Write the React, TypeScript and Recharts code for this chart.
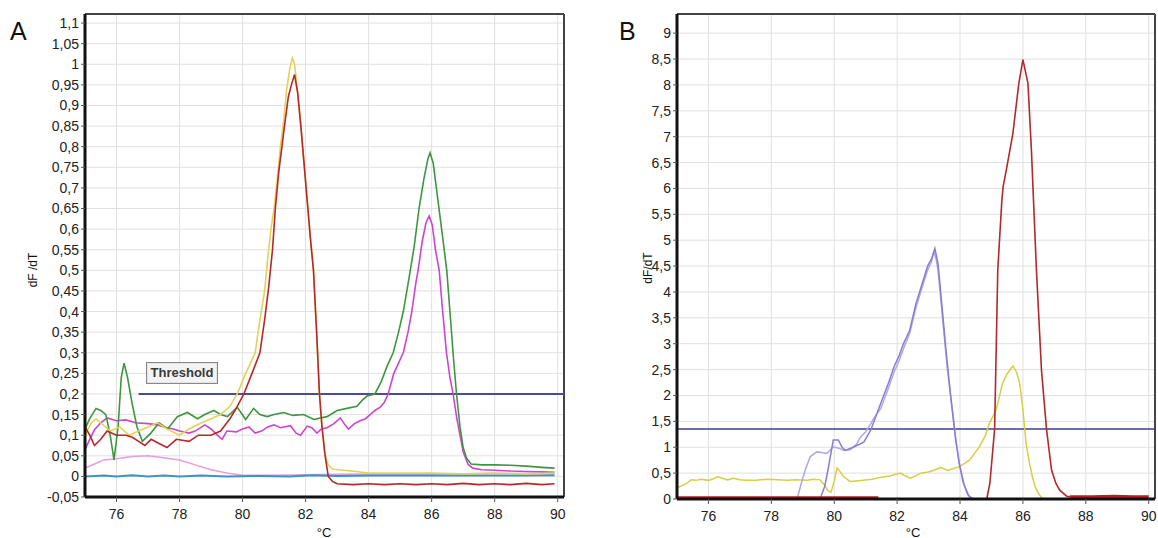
import React from 'react';
import { LineChart, Line, XAxis, YAxis, CartesianGrid, ReferenceLine } from 'recharts';

type Pt = [number, number | null];

// ---- panel A: dF/dT against temperature (°C)
const ticksA_y = [-0.05, 0, 0.05, 0.1, 0.15, 0.2, 0.25, 0.3, 0.35, 0.4, 0.45, 0.5, 0.55, 0.6, 0.65, 0.7, 0.75, 0.8, 0.85, 0.9, 0.95, 1, 1.05, 1.1];
const ticksX = [76, 78, 80, 82, 84, 86, 88, 90];
const thresholdA = 0.2;

const yellowA: Pt[] = [
  [75.0, 0.1], [75.2, 0.13], [75.35, 0.14], [75.5, 0.13], [75.8, 0.11], [76.1, 0.12], [76.4, 0.1], [76.7, 0.11],
  [77.0, 0.12], [77.3, 0.13], [77.6, 0.115], [78.0, 0.1], [78.3, 0.115], [78.7, 0.13], [79.0, 0.14], [79.3, 0.15],
  [79.6, 0.17], [79.83, 0.2], [80.1, 0.25], [80.4, 0.3], [80.55, 0.38], [80.7, 0.45], [80.8, 0.53], [80.9, 0.6],
  [81.0, 0.65], [81.1, 0.72], [81.2, 0.8], [81.3, 0.86], [81.4, 0.94], [81.5, 0.99], [81.58, 1.015], [81.65, 1.0],
  [81.75, 0.93], [81.85, 0.85], [81.95, 0.76], [82.05, 0.67], [82.15, 0.58], [82.25, 0.5], [82.35, 0.35], [82.44, 0.2],
  [82.52, 0.12], [82.6, 0.06], [82.7, 0.03], [82.85, 0.018], [83.2, 0.015], [83.6, 0.012], [84.0, 0.008], [85.0, 0.008],
  [86.0, 0.008], [87.0, 0.006], [88.0, 0.008], [89.0, 0.006], [89.9, 0.008],
];

const redA: Pt[] = [
  [75.0, 0.12], [75.15, 0.1], [75.3, 0.075], [75.5, 0.09], [75.7, 0.11], [76.0, 0.1], [76.3, 0.1], [76.5, 0.095],
  [76.7, 0.085], [76.9, 0.075], [77.1, 0.09], [77.35, 0.08], [77.6, 0.07], [77.9, 0.09], [78.3, 0.085], [78.6, 0.1],
  [79.0, 0.1], [79.3, 0.11], [79.6, 0.14], [79.8, 0.165], [80.04, 0.2], [80.3, 0.25], [80.55, 0.3], [80.7, 0.38],
  [80.83, 0.46], [80.95, 0.55], [81.04, 0.65], [81.15, 0.74], [81.25, 0.8], [81.33, 0.85], [81.45, 0.92], [81.55, 0.95],
  [81.65, 0.975], [81.75, 0.93], [81.85, 0.85], [81.95, 0.76], [82.05, 0.67], [82.15, 0.58], [82.25, 0.5], [82.35, 0.35],
  [82.44, 0.2], [82.52, 0.12], [82.62, 0.05], [82.72, 0.0], [82.85, -0.012], [83.0, -0.018], [83.5, -0.02], [84.0, -0.018],
  [84.5, -0.02], [85.0, -0.018], [85.5, -0.02], [86.0, -0.018], [86.5, -0.02], [87.0, -0.017], [87.5, -0.02], [88.0, -0.018],
  [88.5, -0.02], [89.0, -0.017], [89.5, -0.02], [89.9, -0.018],
];

const greenA: Pt[] = [
  [75.0, 0.115], [75.15, 0.14], [75.35, 0.165], [75.5, 0.16], [75.66, 0.15], [75.8, 0.1], [75.92, 0.04], [76.05, 0.12],
  [76.15, 0.24], [76.24, 0.275], [76.35, 0.24], [76.5, 0.175], [76.65, 0.12], [76.82, 0.085], [77.09, 0.105], [77.35, 0.13],
  [77.62, 0.115], [77.93, 0.145], [78.25, 0.155], [78.57, 0.14], [78.8, 0.15], [79.09, 0.16], [79.3, 0.15], [79.52, 0.145],
  [79.83, 0.168], [80.1, 0.138], [80.35, 0.165], [80.55, 0.15], [80.78, 0.145], [81.0, 0.15], [81.3, 0.155], [81.6, 0.148],
  [81.94, 0.15], [82.26, 0.138], [82.5, 0.142], [82.68, 0.145], [83.0, 0.16], [83.31, 0.165], [83.63, 0.17], [83.8, 0.185],
  [83.95, 0.195], [84.2, 0.2], [84.4, 0.23], [84.6, 0.27], [84.78, 0.3], [84.95, 0.35], [85.1, 0.4], [85.28, 0.48],
  [85.45, 0.56], [85.6, 0.65], [85.75, 0.72], [85.88, 0.77], [85.95, 0.785], [86.05, 0.76], [86.2, 0.67], [86.35, 0.58],
  [86.48, 0.5], [86.6, 0.38], [86.7, 0.28], [86.79, 0.2], [86.9, 0.12], [87.0, 0.07], [87.1, 0.045], [87.25, 0.03],
  [87.6, 0.028], [88.0, 0.028], [88.5, 0.027], [89.0, 0.025], [89.5, 0.022], [89.9, 0.02],
];

const magentaA: Pt[] = [
  [75.0, 0.065], [75.15, 0.09], [75.3, 0.113], [75.5, 0.13], [75.7, 0.142], [76.0, 0.135], [76.3, 0.137], [76.6, 0.13],
  [77.0, 0.128], [77.3, 0.125], [77.5, 0.12], [77.8, 0.115], [78.0, 0.11], [78.3, 0.105], [78.5, 0.11], [78.8, 0.125],
  [79.0, 0.115], [79.2, 0.1], [79.35, 0.09], [79.5, 0.11], [79.8, 0.108], [80.0, 0.115], [80.2, 0.12], [80.4, 0.105],
  [80.6, 0.11], [80.8, 0.12], [81.0, 0.125], [81.2, 0.118], [81.52, 0.123], [81.7, 0.105], [81.84, 0.1], [82.05, 0.122],
  [82.2, 0.118], [82.36, 0.105], [82.5, 0.115], [82.68, 0.118], [82.9, 0.128], [83.1, 0.142], [83.25, 0.125], [83.36, 0.115],
  [83.55, 0.128], [83.73, 0.135], [83.9, 0.14], [84.05, 0.15], [84.2, 0.16], [84.37, 0.168], [84.5, 0.18], [84.62, 0.2],
  [84.8, 0.25], [85.1, 0.3], [85.25, 0.35], [85.37, 0.4], [85.5, 0.47], [85.57, 0.5], [85.7, 0.57], [85.82, 0.615],
  [85.92, 0.632], [86.02, 0.61], [86.12, 0.55], [86.24, 0.5], [86.35, 0.4], [86.47, 0.3], [86.58, 0.24], [86.68, 0.2],
  [86.8, 0.14], [86.9, 0.1], [87.0, 0.06], [87.15, 0.03], [87.3, 0.02], [87.6, 0.016], [88.0, 0.015], [88.5, 0.013],
  [89.0, 0.012], [89.5, 0.011], [89.9, 0.01],
];

const pinkA: Pt[] = [
  [75.0, 0.02], [75.3, 0.03], [75.6, 0.04], [76.0, 0.043], [76.5, 0.048], [77.0, 0.05], [77.5, 0.045], [78.0, 0.04],
  [78.5, 0.028], [79.0, 0.016], [79.5, 0.008], [80.0, 0.003], [81.0, 0.003], [82.0, 0.004], [83.0, 0.005], [84.0, 0.006],
  [86.0, 0.006], [88.0, 0.007], [89.9, 0.007],
];

const cyanA: Pt[] = [
  [75.0, 0.0], [75.6, 0.002], [76.0, 0.0], [76.5, 0.003], [77.0, 0.0], [77.5, 0.002], [78.0, 0.0], [78.7, 0.002],
  [79.5, 0.0], [80.5, 0.001], [81.5, 0.0], [82.2, 0.003], [83.0, 0.001], [84.0, 0.002], [85.0, 0.002], [86.0, 0.002],
  [87.0, 0.002], [88.0, 0.002], [89.0, 0.002], [89.9, 0.003],
];

// ---- panel B
const ticksB_y = [0, 0.5, 1, 1.5, 2, 2.5, 3, 3.5, 4, 4.5, 5, 5.5, 6, 6.5, 7, 7.5, 8, 8.5, 9];
const thresholdB = 1.35;

const redB: Pt[] = [
  [84.85, 0], [84.95, 0.31], [85.1, 1.35], [85.2, 4.42], [85.33, 5.77], [85.37, 6.03], [85.5, 6.45], [85.68, 7.06],
  [85.87, 8.03], [86.0, 8.49], [86.16, 8.03], [86.27, 6.74], [86.43, 4.42], [86.59, 2.49], [86.75, 1.35], [86.91, 0.56],
  [87.05, 0.3], [87.17, 0.17], [87.4, 0.05], [87.6, 0.04],
];

// thick red trace lying on zero, before and after the peak
const redBaseB: Pt[] = [
  [75.0, 0.02], [76.5, 0.02], [78.0, 0.02], [79.5, 0.02], [81.4, 0.02], [84.0, null],
  [87.5, 0.04], [88.2, 0.04], [88.9, 0.05], [89.5, 0.04], [90.0, 0.04],
];

const yellowB: Pt[] = [
  [75.0, 0.22], [75.1, 0.24], [75.3, 0.3], [75.45, 0.37], [75.6, 0.36], [75.76, 0.38], [76.0, 0.36], [76.15, 0.39],
  [76.29, 0.43], [76.45, 0.4], [76.6, 0.37], [76.8, 0.4], [77.0, 0.37], [77.2, 0.36], [77.5, 0.36], [77.86, 0.38],
  [78.2, 0.37], [78.5, 0.36], [78.8, 0.37], [79.13, 0.36], [79.35, 0.38], [79.55, 0.37], [79.68, 0.28], [79.8, 0.16],
  [79.9, 0.13], [80.0, 0.35], [80.09, 0.6], [80.2, 0.52], [80.3, 0.43], [80.5, 0.34], [80.7, 0.35], [80.9, 0.36],
  [81.2, 0.38], [81.48, 0.42], [81.8, 0.45], [82.1, 0.5], [82.25, 0.45], [82.43, 0.4], [82.6, 0.45], [82.75, 0.5],
  [83.0, 0.52], [83.2, 0.56], [83.38, 0.61], [83.6, 0.55], [84.0, 0.63], [84.3, 0.75], [84.62, 1.01], [84.8, 1.22],
  [84.94, 1.47], [85.15, 1.72], [85.35, 2.23], [85.5, 2.42], [85.68, 2.57], [85.8, 2.45], [85.9, 2.23], [86.0, 1.72],
  [86.1, 1.08], [86.2, 0.72], [86.3, 0.43], [86.4, 0.22], [86.5, 0.1], [86.6, 0.02], [86.7, 0],
];

const violet1B: Pt[] = [
  [78.82, 0], [78.95, 0.3], [79.1, 0.6], [79.24, 0.82], [79.45, 0.91], [79.6, 0.9], [79.76, 0.88], [79.97, 1.01],
  [80.15, 0.98], [80.3, 0.94], [80.5, 0.95], [80.7, 1.05], [80.84, 1.2], [81.0, 1.3], [81.16, 1.45], [81.3, 1.6],
  [81.48, 1.75], [81.7, 2.1], [81.9, 2.45], [82.05, 2.65], [82.2, 2.9], [82.4, 3.2], [82.6, 3.7], [82.8, 4.1],
  [82.97, 4.42], [83.1, 4.6], [83.17, 4.78], [83.25, 4.6], [83.3, 4.42], [83.45, 3.46], [83.6, 2.49], [83.77, 1.66],
  [83.88, 1.08], [84.0, 0.62], [84.15, 0.24], [84.3, 0.04], [84.4, 0],
];

const violet2B: Pt[] = [
  [79.55, 0], [79.7, 0.25], [79.8, 0.56], [79.9, 0.9], [79.97, 1.14], [80.13, 1.14], [80.25, 1.0], [80.35, 0.94],
  [80.6, 1.0], [80.94, 1.1], [81.16, 1.33], [81.48, 1.85], [81.7, 2.2], [81.9, 2.55], [82.05, 2.75], [82.2, 3.0],
  [82.4, 3.26], [82.6, 3.78], [82.8, 4.17], [82.97, 4.5], [83.1, 4.65], [83.2, 4.84], [83.3, 4.55], [83.4, 3.9],
  [83.55, 2.9], [83.7, 2.0], [83.85, 1.2], [83.97, 0.7], [84.1, 0.32], [84.25, 0.08], [84.4, 0],
];

const toPts = (arr: Pt[]) => arr.map(([t, v]) => ({ t, v }));
const fmt = (v: number) => String(Math.round(v * 100) / 100).replace('.', ',');

const FONT = '"Liberation Sans", Arial, sans-serif';
const tickStyle = { fontSize: 14, fill: '#222', fontFamily: FONT };
const X_DOMAIN: [number, number] = [75, 90.2];

const line = (key: string, data: Pt[], color: string, width = 1.5) => (
  <Line
    key={key}
    data={toPts(data)}
    dataKey="v"
    type="linear"
    stroke={color}
    strokeWidth={width}
    dot={false}
    activeDot={false}
    connectNulls={false}
    isAnimationActive={false}
  />
);

const absText = (style: React.CSSProperties): React.CSSProperties => ({
  position: 'absolute',
  fontFamily: FONT,
  color: '#111',
  whiteSpace: 'nowrap',
  ...style,
});

export default function App() {
  const yTopA = 1.122;
  const yTopB = 9.37;
  return (
    <div style={{ position: 'absolute', left: 0, top: 0, width: 1158, height: 538, background: '#fff', overflow: 'hidden' }}>
      {/* panel A */}
      <div style={{ position: 'absolute', left: 0, top: 0 }}>
        <LineChart width={580} height={538} margin={{ top: 14, right: 16, bottom: 11, left: 30 }}>
          <CartesianGrid stroke="#e0e0e0" strokeWidth={1} />
          <XAxis
            dataKey="t"
            type="number"
            domain={X_DOMAIN}
            allowDataOverflow
            ticks={ticksX}
            interval={0}
            height={30}
            tick={tickStyle}
            tickSize={5}
            tickMargin={7}
            tickLine={{ stroke: '#555' }}
            axisLine={{ stroke: '#111', strokeWidth: 3 }}
          />
          <YAxis
            type="number"
            domain={[-0.05, yTopA]}
            allowDataOverflow
            ticks={ticksA_y}
            interval={0}
            width={55}
            tick={tickStyle}
            tickFormatter={fmt}
            tickSize={4}
            tickMargin={2}
            tickLine={{ stroke: '#555' }}
            axisLine={{ stroke: '#111', strokeWidth: 3 }}
          />
          <ReferenceLine y={yTopA} stroke="#444" strokeWidth={2} />
          <ReferenceLine x={90.2} stroke="#444" strokeWidth={2} />
          <ReferenceLine
            segment={[{ x: 76.7, y: thresholdA }, { x: 90.2, y: thresholdA }]}
            stroke="#4b4b9e"
            strokeWidth={2}
          />
          {line('pink', pinkA, '#e69ce0', 1.5)}
          {line('cyan', cyanA, '#3d92c8', 2)}
          {line('magenta', magentaA, '#cc44d0', 1.6)}
          {line('green', greenA, '#3f9640', 1.6)}
          {line('yellow', yellowA, '#e2d356', 1.6)}
          {line('red', redA, '#b8282a', 1.6)}
        </LineChart>
        <div
          style={absText({
            left: 146,
            top: 362,
            width: 70,
            height: 20,
            border: '1px solid #888',
            boxShadow: 'inset 0 0 0 1px #e4e4e4',
            background: '#f3f3f3',
            fontSize: 13,
            fontWeight: 'bold',
            lineHeight: '20px',
            textAlign: 'center',
            color: '#3a3a3a',
          })}
        >
          Threshold
        </div>
      </div>

      {/* panel B */}
      <div style={{ position: 'absolute', left: 580, top: 0 }}>
        <LineChart width={578} height={538} margin={{ top: 14, right: 3, bottom: 9, left: 40 }}>
          <CartesianGrid stroke="#e0e0e0" strokeWidth={1} />
          <XAxis
            dataKey="t"
            type="number"
            domain={X_DOMAIN}
            allowDataOverflow
            ticks={ticksX}
            interval={0}
            height={30}
            tick={tickStyle}
            tickSize={5}
            tickMargin={7}
            tickLine={{ stroke: '#555' }}
            axisLine={{ stroke: '#111', strokeWidth: 3 }}
          />
          <YAxis
            type="number"
            domain={[0, yTopB]}
            allowDataOverflow
            ticks={ticksB_y}
            interval={0}
            width={57}
            tick={tickStyle}
            tickFormatter={fmt}
            tickSize={4}
            tickMargin={2}
            tickLine={{ stroke: '#555' }}
            axisLine={{ stroke: '#111', strokeWidth: 3 }}
          />
          <ReferenceLine y={yTopB} stroke="#444" strokeWidth={2} />
          <ReferenceLine x={90.2} stroke="#444" strokeWidth={2} />
          <ReferenceLine y={thresholdB} stroke="#3c3c8e" strokeWidth={1.5} />
          {line('yellowB', yellowB, '#d6cf45', 1.5)}
          {line('violet1', violet1B, '#b2a6e2', 1.5)}
          {line('violet2', violet2B, '#8c7cd0', 1.5)}
          {line('redBase', redBaseB, '#b81c24', 3.5)}
          {line('redB', redB, '#b02a2e', 1.6)}
        </LineChart>
      </div>

      {/* panel letters and axis titles */}
      <div style={absText({ left: 10, top: 17, fontSize: 25 })}>A</div>
      <div style={absText({ left: 619, top: 17, fontSize: 25 })}>B</div>
      <div style={absText({ left: 33, top: 270, fontSize: 12, transform: 'translate(-50%, -50%) rotate(-90deg)' })}>dF /dT</div>
      <div style={absText({ left: 648, top: 268, fontSize: 12, transform: 'translate(-50%, -50%) rotate(-90deg)' })}>dF/dT</div>
      <div style={absText({ left: 324, top: 532, fontSize: 13, transform: 'translate(-50%, -50%)' })}>°C</div>
      <div style={absText({ left: 913, top: 532, fontSize: 13, transform: 'translate(-50%, -50%)' })}>°C</div>
    </div>
  );
}
